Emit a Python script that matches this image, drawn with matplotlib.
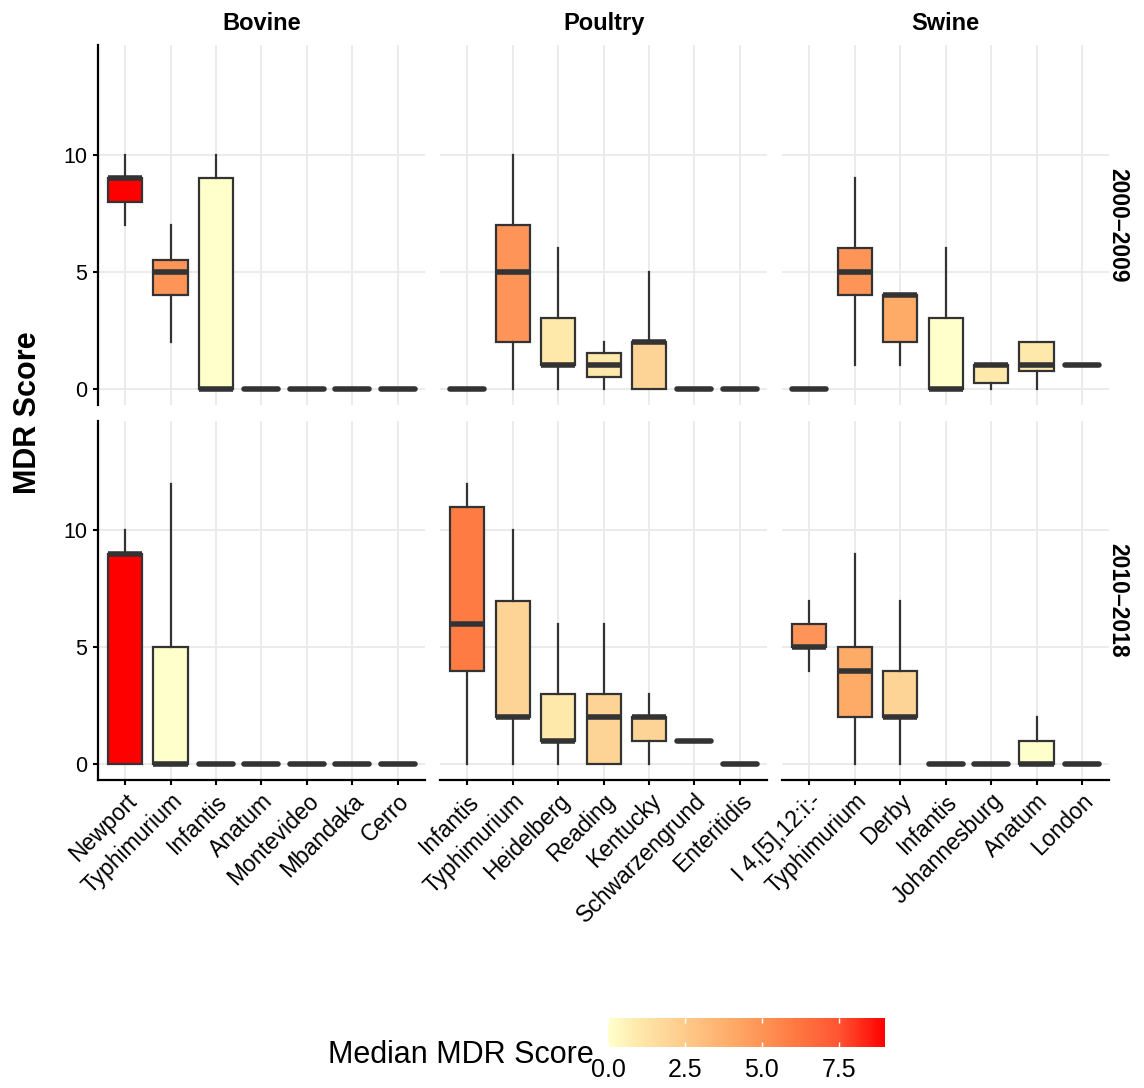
import numpy as np
import matplotlib.pyplot as plt
from matplotlib.colors import LinearSegmentedColormap, Normalize
from matplotlib.cm import ScalarMappable

plt.rcParams['font.family'] = ['Liberation Sans', 'DejaVu Sans']

species = ['Bovine', 'Poultry', 'Swine']
periods = ['2000–2009', '2010–2018']

bovine_cats = ['Newport', 'Typhimurium', 'Infantis', 'Anatum', 'Montevideo', 'Mbandaka', 'Cerro']
poultry_cats = ['Infantis', 'Typhimurium', 'Heidelberg', 'Reading', 'Kentucky', 'Schwarzengrund', 'Enteritidis']
swine_cats = ['I 4,[5],12:i:-', 'Typhimurium', 'Derby', 'Infantis', 'Johannesburg', 'Anatum', 'London']

# each row: lower whisker, q1, median, q3, upper whisker
bovine_early = [[7, 8, 9, 9, 10], [2, 4, 5, 5.5, 7], [0, 0, 0, 9, 10],
                [0, 0, 0, 0, 0], [0, 0, 0, 0, 0], [0, 0, 0, 0, 0], [0, 0, 0, 0, 0]]
poultry_early = [[0, 0, 0, 0, 0], [0, 2, 5, 7, 10], [0, 1, 1, 3, 6], [0, 0.5, 1, 1.5, 2],
                 [0, 0, 2, 2, 5], [0, 0, 0, 0, 0], [0, 0, 0, 0, 0]]
swine_early = [[0, 0, 0, 0, 0], [1, 4, 5, 6, 9], [1, 2, 4, 4, 4], [0, 0, 0, 3, 6],
               [0, 0.25, 1, 1, 1], [0, 0.75, 1, 2, 2], [1, 1, 1, 1, 1]]
bovine_late = [[0, 0, 9, 9, 10], [0, 0, 0, 5, 12], [0, 0, 0, 0, 0],
               [0, 0, 0, 0, 0], [0, 0, 0, 0, 0], [0, 0, 0, 0, 0], [0, 0, 0, 0, 0]]
poultry_late = [[0, 4, 6, 11, 12], [0, 2, 2, 7, 10], [0, 1, 1, 3, 6], [0, 0, 2, 3, 6],
                [0, 1, 2, 2, 3], [1, 1, 1, 1, 1], [0, 0, 0, 0, 0]]
swine_late = [[4, 5, 5, 6, 7], [0, 2, 4, 5, 9], [0, 2, 2, 4, 7], [0, 0, 0, 0, 0],
              [0, 0, 0, 0, 0], [0, 0, 0, 1, 2], [0, 0, 0, 0, 0]]

cats = [bovine_cats, poultry_cats, swine_cats]
panels = [[bovine_early, poultry_early, swine_early],
          [bovine_late, poultry_late, swine_late]]

# fill scale: light yellow -> red
cmap = LinearSegmentedColormap.from_list(
    'mdr', [(0, '#FFFFCC'), (1/9, '#FEE8AA'), (2/9, '#FED496'), (4/9, '#FEAB68'),
            (5/9, '#FE9457'), (6/9, '#FE7B43'), (7.5/9, '#FF5533'), (1, '#FF0000')])
norm = Normalize(0, 9)

fig = plt.figure(figsize=(11.44, 10.88), dpi=100)
lefts = [0.0855, 0.3846, 0.6836]
bottoms = [0.6279, 0.2828]
w, h = 0.2860, 0.3305
edge = '#333333'

for r in range(2):
    for c in range(3):
        ax = fig.add_axes([lefts[c], bottoms[r], w, h])
        data = panels[r][c]
        stats = [dict(whislo=d[0], q1=d[1], med=d[2], q3=d[3], whishi=d[4]) for d in data]
        bp = ax.bxp(stats, positions=np.arange(1, 8), widths=0.75, patch_artist=True,
                    showfliers=False, showcaps=False,
                    boxprops=dict(edgecolor=edge, linewidth=1.6),
                    whiskerprops=dict(color=edge, linewidth=1.6),
                    medianprops=dict(color=edge, linewidth=4.0, solid_capstyle='butt'))
        for box, med, d in zip(bp['boxes'], bp['medians'], data):
            box.set_facecolor(cmap(norm(d[2])))
            if d[1] == d[3]:
                med.set_solid_capstyle('round')
        ax.set_xlim(0.4, 7.6)
        ax.set_ylim(-0.7, 14.7)
        ax.set_yticks([0, 5, 10])
        ax.set_xticks(np.arange(1, 8))
        ax.set_axisbelow(True)
        ax.grid(color='#EBEBEB', linewidth=1.4)
        for s in ax.spines.values():
            s.set_visible(False)
        ax.tick_params(axis='both', colors='black', width=1.5, length=3.6, pad=4)
        ax.tick_params(axis='y', labelsize=15.5)
        ax.tick_params(axis='x', labelsize=16.5, pad=3)
        if c == 0:
            ax.spines['left'].set_visible(True)
            ax.spines['left'].set_linewidth(1.6)
        else:
            ax.tick_params(axis='y', length=0, labelleft=False)
        if r == 1:
            ax.spines['bottom'].set_visible(True)
            ax.spines['bottom'].set_linewidth(1.6)
            ax.set_xticklabels(cats[c], rotation=45, ha='right', va='top',
                               rotation_mode='anchor')
        else:
            ax.tick_params(axis='x', length=0, labelbottom=False)
            ax.set_title(species[c], fontsize=17, fontweight='bold', pad=11)
        if c == 2:
            ax.text(1.0 + 9 / (w * 1144), 0.5, periods[r], transform=ax.transAxes,
                    rotation=-90, ha='center', va='center', fontsize=16.5, fontweight='bold')

fig.text(0.0245, 0.621, 'MDR Score', rotation=90, ha='center', va='center',
         fontsize=22, fontweight='bold')

cax = fig.add_axes([0.5315, 0.0377, 0.2421, 0.0267])
cb = fig.colorbar(ScalarMappable(norm=norm, cmap=cmap), cax=cax, orientation='horizontal')
cb.outline.set_visible(False)
cb.set_ticks([0, 2.5, 5, 7.5])
cb.set_ticklabels(['0.0', '2.5', '5.0', '7.5'])
cax.tick_params(axis='x', direction='in', colors='white', length=3.5, width=1,
                top=True, bottom=True, labelsize=18, labelcolor='black', pad=8)
fig.text(0.519, 0.0303, 'Median MDR Score', ha='right', va='center', fontsize=22)

fig.savefig('out.png', dpi=100)
